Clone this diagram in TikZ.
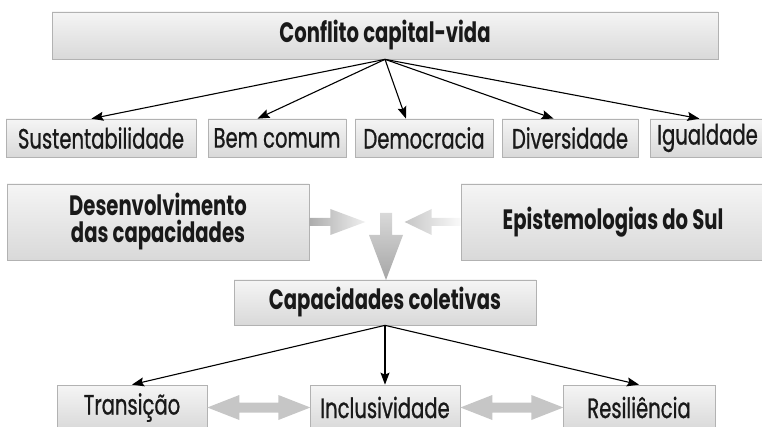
\documentclass[tikz,border=0pt]{standalone}
\usepackage{fontspec}
\setmainfont{Poppins}[FakeStretch=0.7, UprightFeatures={FakeBold=0.8}]
\usetikzlibrary{arrows.meta,calc}
\begin{document}
\begin{tikzpicture}[x=1pt,y=-1pt,
  box/.style={draw=gray!60, line width=0.7pt, top color=gray!8, bottom color=gray!30,
    inner sep=0pt, text=black!90, font=\fontsize{28}{27}\selectfont},
  bbox/.style={box, font=\fontsize{28}{27}\selectfont\bfseries, align=center},
  link/.style={line width=1.1pt, -{Stealth[length=12pt,width=9pt,inset=2pt]}},
]
\useasboundingbox (0,0) rectangle (762,427);
% top
\node[bbox, minimum width=666pt, minimum height=47pt] (top) at (385,35.5) {Conflito capital-vida};
% row 1
\node[box, minimum width=190pt, minimum height=38pt] (sus) at (101,138) {Sustentabilidade};
\node[box, minimum width=138pt, minimum height=38pt] (bem) at (277,138) {Bem comum};
\node[box, minimum width=138pt, minimum height=38pt] (dem) at (424,138) {Democracia};
\node[box, minimum width=136pt, minimum height=38pt] (div) at (570,138) {Diversidade};
\node[box, minimum width=115pt, minimum height=38pt] (igu) at (707.5,138) {Igualdade};
\draw[link] (top.south) -- ($(sus.north west)!0.45!(sus.north east)$);
\draw[link] (top.south) -- ($(bem.north west)!0.36!(bem.north east)$);
\draw[link] (top.south) -- ($(dem.north west)!0.37!(dem.north east)$);
\draw[link] (top.south) -- ($(div.north west)!0.38!(div.north east)$);
\draw[link] (top.south) -- ($(igu.north west)!0.43!(igu.north east)$);
% middle
\node[bbox, minimum width=302pt, minimum height=76pt] (dev) at (158,222) {Desenvolvimento\\das capacidades};
\node[bbox, minimum width=304pt, minimum height=76pt] (epi) at (613,222) {Epistemologias do Sul};
\node[bbox, minimum width=302pt, minimum height=45pt] (cap) at (385,302.5) {Capacidades coletivas};
\coordinate (merge) at (386,213);
\shade[shift={(dev.east)}, left color=gray!65, right color=gray!12]
  (0,-4) -- (21,-4) -- (21,-13) -- (56,0) -- (21,13) -- (21,4) -- (0,4) -- cycle;
\shade[shift={(epi.west)}, left color=gray!45, right color=gray!4]
  (0,-4) -- (-29,-4) -- (-29,-13) -- (-56,0) -- (-29,13) -- (-29,4) -- (0,4) -- cycle;
\shade[shift={(merge)}, top color=gray!30, bottom color=gray!70]
  (-6,0) -- (6,0) -- (6,22) -- (17,22) -- (0,67) -- (-17,22) -- (-6,22) -- cycle;
% bottom
\node[box, minimum width=150pt, minimum height=45pt] (tra) at (132,407.5) {Transição};
\node[box, minimum width=150pt, minimum height=45pt] (inc) at (385,407.5) {Inclusividade};
\node[box, minimum width=152pt, minimum height=45pt] (res) at (639,407.5) {Resiliência};
\draw[link] (cap.south) -- (tra.north);
\draw[link] (cap.south) -- (inc.north);
\draw[link] (cap.south) -- (res.north);
\shade[shift={(tra.east)}, left color=gray!45, middle color=gray!8, right color=gray!45]
  (0,0) -- (32,-12.5) -- (32,-5) -- (71,-5) -- (71,-12.5) -- (103,0) -- (71,12.5) -- (71,5) -- (32,5) -- (32,12.5) -- cycle;
\shade[shift={(inc.east)}, left color=gray!45, middle color=gray!8, right color=gray!45]
  (0,0) -- (32,-12.5) -- (32,-5) -- (71,-5) -- (71,-12.5) -- (103,0) -- (71,12.5) -- (71,5) -- (32,5) -- (32,12.5) -- cycle;
\end{tikzpicture}
\end{document}
